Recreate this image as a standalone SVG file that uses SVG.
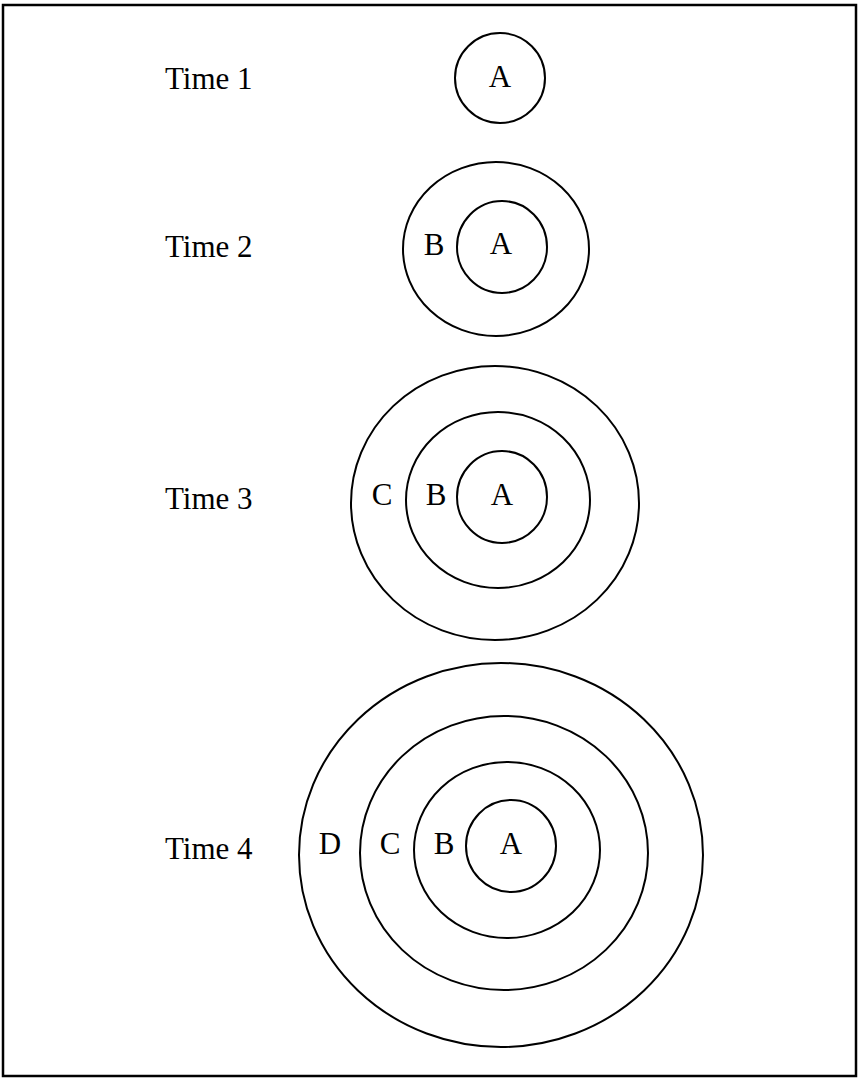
<svg xmlns="http://www.w3.org/2000/svg" width="860" height="1079" viewBox="0 0 860 1079">
<style>
.r{fill:none;stroke:#000;stroke-width:2}
.t{font-family:"Liberation Serif","Times New Roman",serif;font-size:31px;fill:#000}
.c{text-anchor:middle}
</style>
<rect x="0" y="0" width="860" height="1079" fill="#fff"/>
<rect x="3" y="5" width="853" height="1071" fill="none" stroke="#000" stroke-width="2.5"/>
<g id="time1">
<text class="t" x="165" y="89">Time 1</text>
<ellipse class="r" cx="500" cy="78" rx="45" ry="45"/>
<text class="t c" x="500" y="87">A</text>
</g>
<g id="time2">
<text class="t" x="165" y="257">Time 2</text>
<ellipse class="r" cx="496" cy="249" rx="93" ry="87"/>
<ellipse class="r" cx="502" cy="247" rx="45" ry="46"/>
<text class="t c" x="434" y="255">B</text>
<text class="t c" x="501" y="254">A</text>
</g>
<g id="time3">
<text class="t" x="165" y="509">Time 3</text>
<ellipse class="r" cx="495" cy="503" rx="144" ry="137"/>
<ellipse class="r" cx="498" cy="500" rx="92" ry="88"/>
<ellipse class="r" cx="502" cy="497" rx="45" ry="46"/>
<text class="t c" x="382" y="505">C</text>
<text class="t c" x="436" y="505">B</text>
<text class="t c" x="502" y="505">A</text>
</g>
<g id="time4">
<text class="t" x="165" y="859">Time 4</text>
<ellipse class="r" cx="501" cy="855" rx="202" ry="192"/>
<ellipse class="r" cx="504" cy="853" rx="144" ry="137"/>
<ellipse class="r" cx="507" cy="850" rx="93" ry="88"/>
<ellipse class="r" cx="511" cy="846" rx="45" ry="46"/>
<text class="t c" x="330" y="854">D</text>
<text class="t c" x="390" y="854">C</text>
<text class="t c" x="444" y="854">B</text>
<text class="t c" x="511" y="854">A</text>
</g>
<g id="connectors"/>
</svg>
